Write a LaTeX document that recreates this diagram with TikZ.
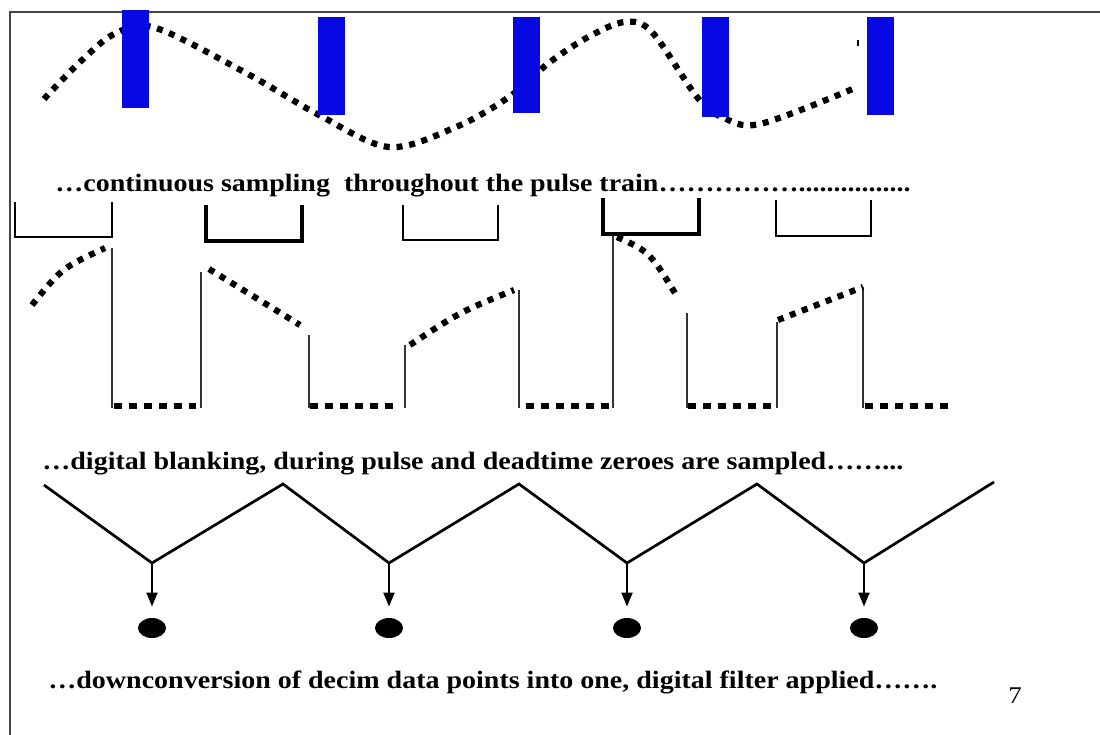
\documentclass[tikz,border=0pt]{standalone}
\usepackage{fontspec}
\usepackage{xcolor}
\usepackage{tikz}
\usetikzlibrary{arrows.meta, shapes.geometric, calc}
\newfontfamily\slidefont[FakeStretch=1.12]{Liberation Serif}
\definecolor{pulseblue}{RGB}{8,8,226}
\definecolor{framegray}{HTML}{444444}

\begin{document}
\begin{tikzpicture}[x=0.5pt, y=-0.5pt, >=Stealth,
  font=\slidefont\bfseries\fontsize{12.5}{14}\selectfont,
  dotline/.style={line width=3.1pt, dash pattern=on 3pt off 3.4pt},
  zeroline/.style={line width=3.4pt, dash pattern=on 4pt off 3.5pt},
  edge/.style={line width=0.7pt, black!80},
  pulse/.style={fill=pulseblue, draw=none},
  caption/.style={anchor=base west, inner sep=0pt},
  sample/.style={ellipse, fill=black, minimum width=14pt, minimum height=10pt, inner sep=0pt}]

  \useasboundingbox (0,0) rectangle (1100,735);
  % Frame
  \draw[framegray, line width=1pt] (10,735) -- (10,12) -- (1100,12);

  % Signal and pulses
  \draw[dotline] plot[smooth, tension=0.55] coordinates {(44,99) (80,62) (116,33) (156,28)
    (246,73) (319,115) (389,147) (456,127) (509,97) (550,62) (590,36) (625,22) (652,32)
    (697,97) (722,117) (760,124) (855,88)};
  \draw[line width=1pt] (858,40) -- (858,46);
  \foreach \x/\t/\b in {122/10/108, 318/17/115, 513/17/113, 702/17/117, 867/17/115}
    \fill[pulse] (\x,\t) rectangle (\x+27,\b);
  \node[caption] (cont) at (55,191) {…continuous sampling\ \ throughout the pulse train……………................};

  % Gates
  \foreach \l/\r/\t/\b/\w in {15/112/202/237/1.4pt, 206/302/205/241/2pt, 403/498/205/240/1.4pt,
      603/699/198/234/2.2pt, 776/871/200/236/1.4pt}
    \draw[line width=\w] (\l,\t) -- (\l,\b) -- (\r,\b) -- (\r,\t);

  % Blanking
  \foreach \x/\t in {112/248, 201/272, 309/335, 405/345, 519/290, 613/235, 687/313, 777/322, 863/287}
    \draw[edge] (\x,\t) -- (\x,408);
  \foreach \a/\b in {114/196, 310/393, 526/610, 688/773, 865/948}
    \draw[zeroline] (\a,406) -- (\b,406);
  \draw[dotline] (32,305) .. controls (62,268) .. (105,248);
  \draw[dotline] (209,269) -- (300,325);
  \draw[dotline] (410,345) .. controls (460,312) .. (514,290);
  \draw[dotline] (617,237) .. controls (650,252) .. (678,298);
  \draw[dotline] (778,320) -- (863,287);
  \node[caption] (blank) at (42,469) {…digital blanking, during pulse and deadtime zeroes are sampled……...};

  % Decimation
  \foreach \i/\x in {1/152, 2/389, 3/627, 4/864} {
    \coordinate (v\i) at (\x,563);
    \node[sample] (s\i) at (\x,628) {};
  }
  \draw[line width=1.35pt] (44,485) -- (v1) -- (283,484) -- (v2) -- (519,484) -- (v3)
    -- (757,484) -- (v4) -- (994,482);
  \foreach \i in {1,...,4}
    \draw[-{Triangle[width=5.5pt,length=7pt]}, line width=1pt, shorten >=5.5pt] (v\i) -- (s\i.north);
  \node[caption] (down) at (48,688) {…downconversion of decim data points into one, digital filter applied…….};

  \node[anchor=base, inner sep=0pt, font=\slidefont\fontsize{12}{14}\selectfont] (page) at (1015,703) {7};
\end{tikzpicture}
\end{document}
